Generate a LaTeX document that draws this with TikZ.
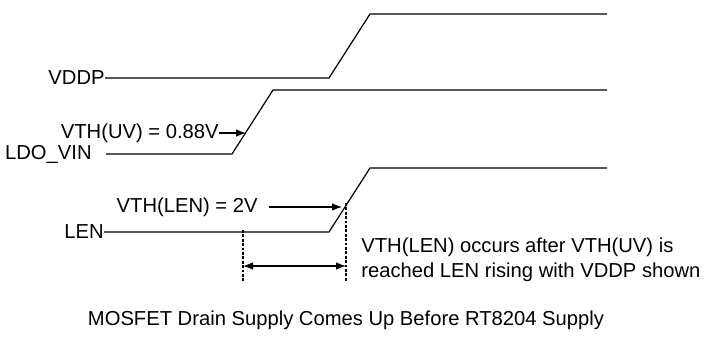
\documentclass[tikz,border=0pt]{standalone}
\usepackage{fontspec}
\setmainfont{Liberation Sans}
\usetikzlibrary{arrows.meta,positioning}
\tikzstyle{every node}=[inner sep=0pt,font=\fontsize{10.1}{12.5}\selectfont]
\tikzstyle{wave}=[line width=0.6pt]
\tikzstyle{marker}=[line width=1.1pt,dash pattern=on 1.4pt off 0.8pt]
\tikzstyle{pointer}=[line width=0.6pt,-{Latex[length=5pt,width=3.8pt]}]
\tikzstyle{span}=[line width=0.6pt,{Latex[length=5pt,width=3.8pt]}-{Latex[length=5pt,width=3.8pt]}]

\begin{document}
\begin{tikzpicture}[x=0.5pt,y=-0.5pt]
\useasboundingbox (0,0) rectangle (707,349);

% signal names
\node[anchor=east] (vddp) at (105,78) {VDDP};
\node[anchor=east] (ldovin) at (92,154) {LDO\_VIN};
\node[anchor=east] (len) at (104,232) {LEN};

% waveforms
\coordinate (vddplo) at (329,78);
\coordinate (vddphi) at (370,14);
\coordinate (vddpend) at (607,14);
\coordinate (ldostart) at (106,154);
\coordinate (ldolo) at (232,154);
\coordinate (ldohi) at (273,90);
\coordinate (ldoend) at (607,90);
\coordinate (lenlo) at (329,232);
\coordinate (lenhi) at (370,168);
\coordinate (lenend) at (607,168);
\draw[wave] (vddp.east) -- (vddplo) -- (vddphi) -- (vddpend);
\draw[wave] (ldostart) -- (ldolo) -- (ldohi) -- (ldoend);
\draw[wave] (len.east) -- (lenlo) -- (lenhi) -- (lenend);

% thresholds
\node[anchor=east] (vthuv) at (219,133) {VTH(UV) = 0.88V};
\coordinate (uvhit) at (246,133);
\draw[pointer] (vthuv.east) -- (uvhit);

\node[anchor=east] (vthlen) at (258,207) {VTH(LEN) = 2V};
\coordinate (lentail) at (269,207);
\coordinate (lenhit) at (342,207);
\draw[pointer] (lentail) -- (lenhit);

% delay markers
\coordinate (marka) at (243,230);
\coordinate (markaend) at (243,281);
\coordinate (markb) at (346,203);
\coordinate (markbend) at (346,282);
\draw[marker] (marka) -- (markaend);
\draw[marker] (markb) -- (markbend);
\draw[span] (243,266) -- (346,266);

\node[anchor=west,align=left] (note) at (361,259.5)
  {VTH(LEN) occurs after VTH(UV) is\\reached LEN rising with VDDP shown};

\node (caption) at (346,320) {MOSFET Drain Supply Comes Up Before RT8204 Supply};

\end{tikzpicture}
\end{document}
